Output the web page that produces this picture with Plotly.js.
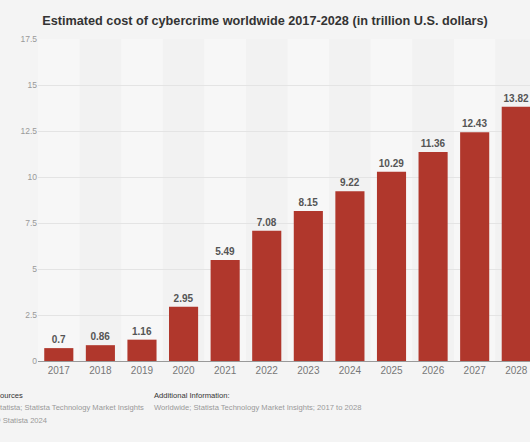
<!DOCTYPE html>
<html><head><meta charset="utf-8">
<script src="https://cdn.plot.ly/plotly-3.0.1.min.js"></script>
<style>html,body{margin:0;padding:0;background:#f4f4f4;}#chart{width:530px;height:442px;}</style>
</head><body><div id="chart"></div>
<script>
const years = ['2017','2018','2019','2020','2021','2022','2023','2024','2025','2026','2027','2028'];
const costs = [0.7,0.86,1.16,2.95,5.49,7.08,8.15,9.22,10.29,11.36,12.43,13.82];
const yTicks = [0,2.5,5,7.5,10,12.5,15,17.5];
const yTickText = ['0','2.5','5','7.5','10','12.5','15','17.5'];

const bands = years.map((y,i)=>({type:'rect',xref:'x',yref:'paper',x0:i-0.5,x1:i+0.5,y0:0,y1:1,
  fillcolor: i%2===0 ? '#f7f7f7' : '#f2f2f2', line:{width:0}, layer:'below'}));

const F = 'Liberation Sans, Arial, sans-serif';
const trace = {type:'bar', x: years.map((y,i)=>i), y: costs, marker:{color:'#b0372c'}, width:0.7,
  text: costs.map(v=>'<b>'+v+'</b>'), textposition:'outside', cliponaxis:false,
  textfont:{family:F, size:10, color:'#555'}, hoverinfo:'none'};

function note(text, x, ypx, color){
  return {text:text, xref:'paper', yref:'paper', x:x, y:-(ypx-361)/322, xanchor:'left', yanchor:'middle',
    showarrow:false, font:{family:F, size:7.6, color:color}};
}
const FL = -0.0915, FR = 0.2317;
const layout = {
  width:530, height:442, paper_bgcolor:'#f4f4f4', plot_bgcolor:'#f4f4f4',
  margin:{l:38,r:0,t:39,b:81}, showlegend:false, shapes:bands,
  title:{text:'<b>Estimated cost of cybercrime worldwide 2017-2028 (in trillion U.S. dollars)</b>',
    font:{family:F, size:12.7, color:'#333'}, x:0.5, xanchor:'center', y:0.953, yanchor:'middle'},
  xaxis:{range:[-0.5,11.33], tickvals: years.map((y,i)=>i), ticktext: years, showgrid:false, zeroline:false,
    showline:true, linecolor:'#999', linewidth:1, ticks:'',
    tickfont:{family:F, size:10, color:'#777'}},
  yaxis:{range:[0,17.5], tickvals:yTicks, ticktext:yTickText, showgrid:true, gridcolor:'#e4e4e4', gridwidth:1,
    zeroline:false, showline:false, ticks:'', ticklen:0,
    tickfont:{family:F, size:8.5, color:'#999'}},
  annotations:[
    note('Sources', FL, 395, '#333'),
    note('Statista; Statista Technology Market Insights', FL, 408, '#999'),
    note('© Statista 2024', FL, 421, '#999'),
    note('Additional Information:', FR, 395, '#333'),
    note('Worldwide; Statista Technology Market Insights; 2017 to 2028', FR, 408, '#999')
  ]
};
Plotly.newPlot('chart',[trace],layout,{displayModeBar:false, staticPlot:true});
</script></body></html>
